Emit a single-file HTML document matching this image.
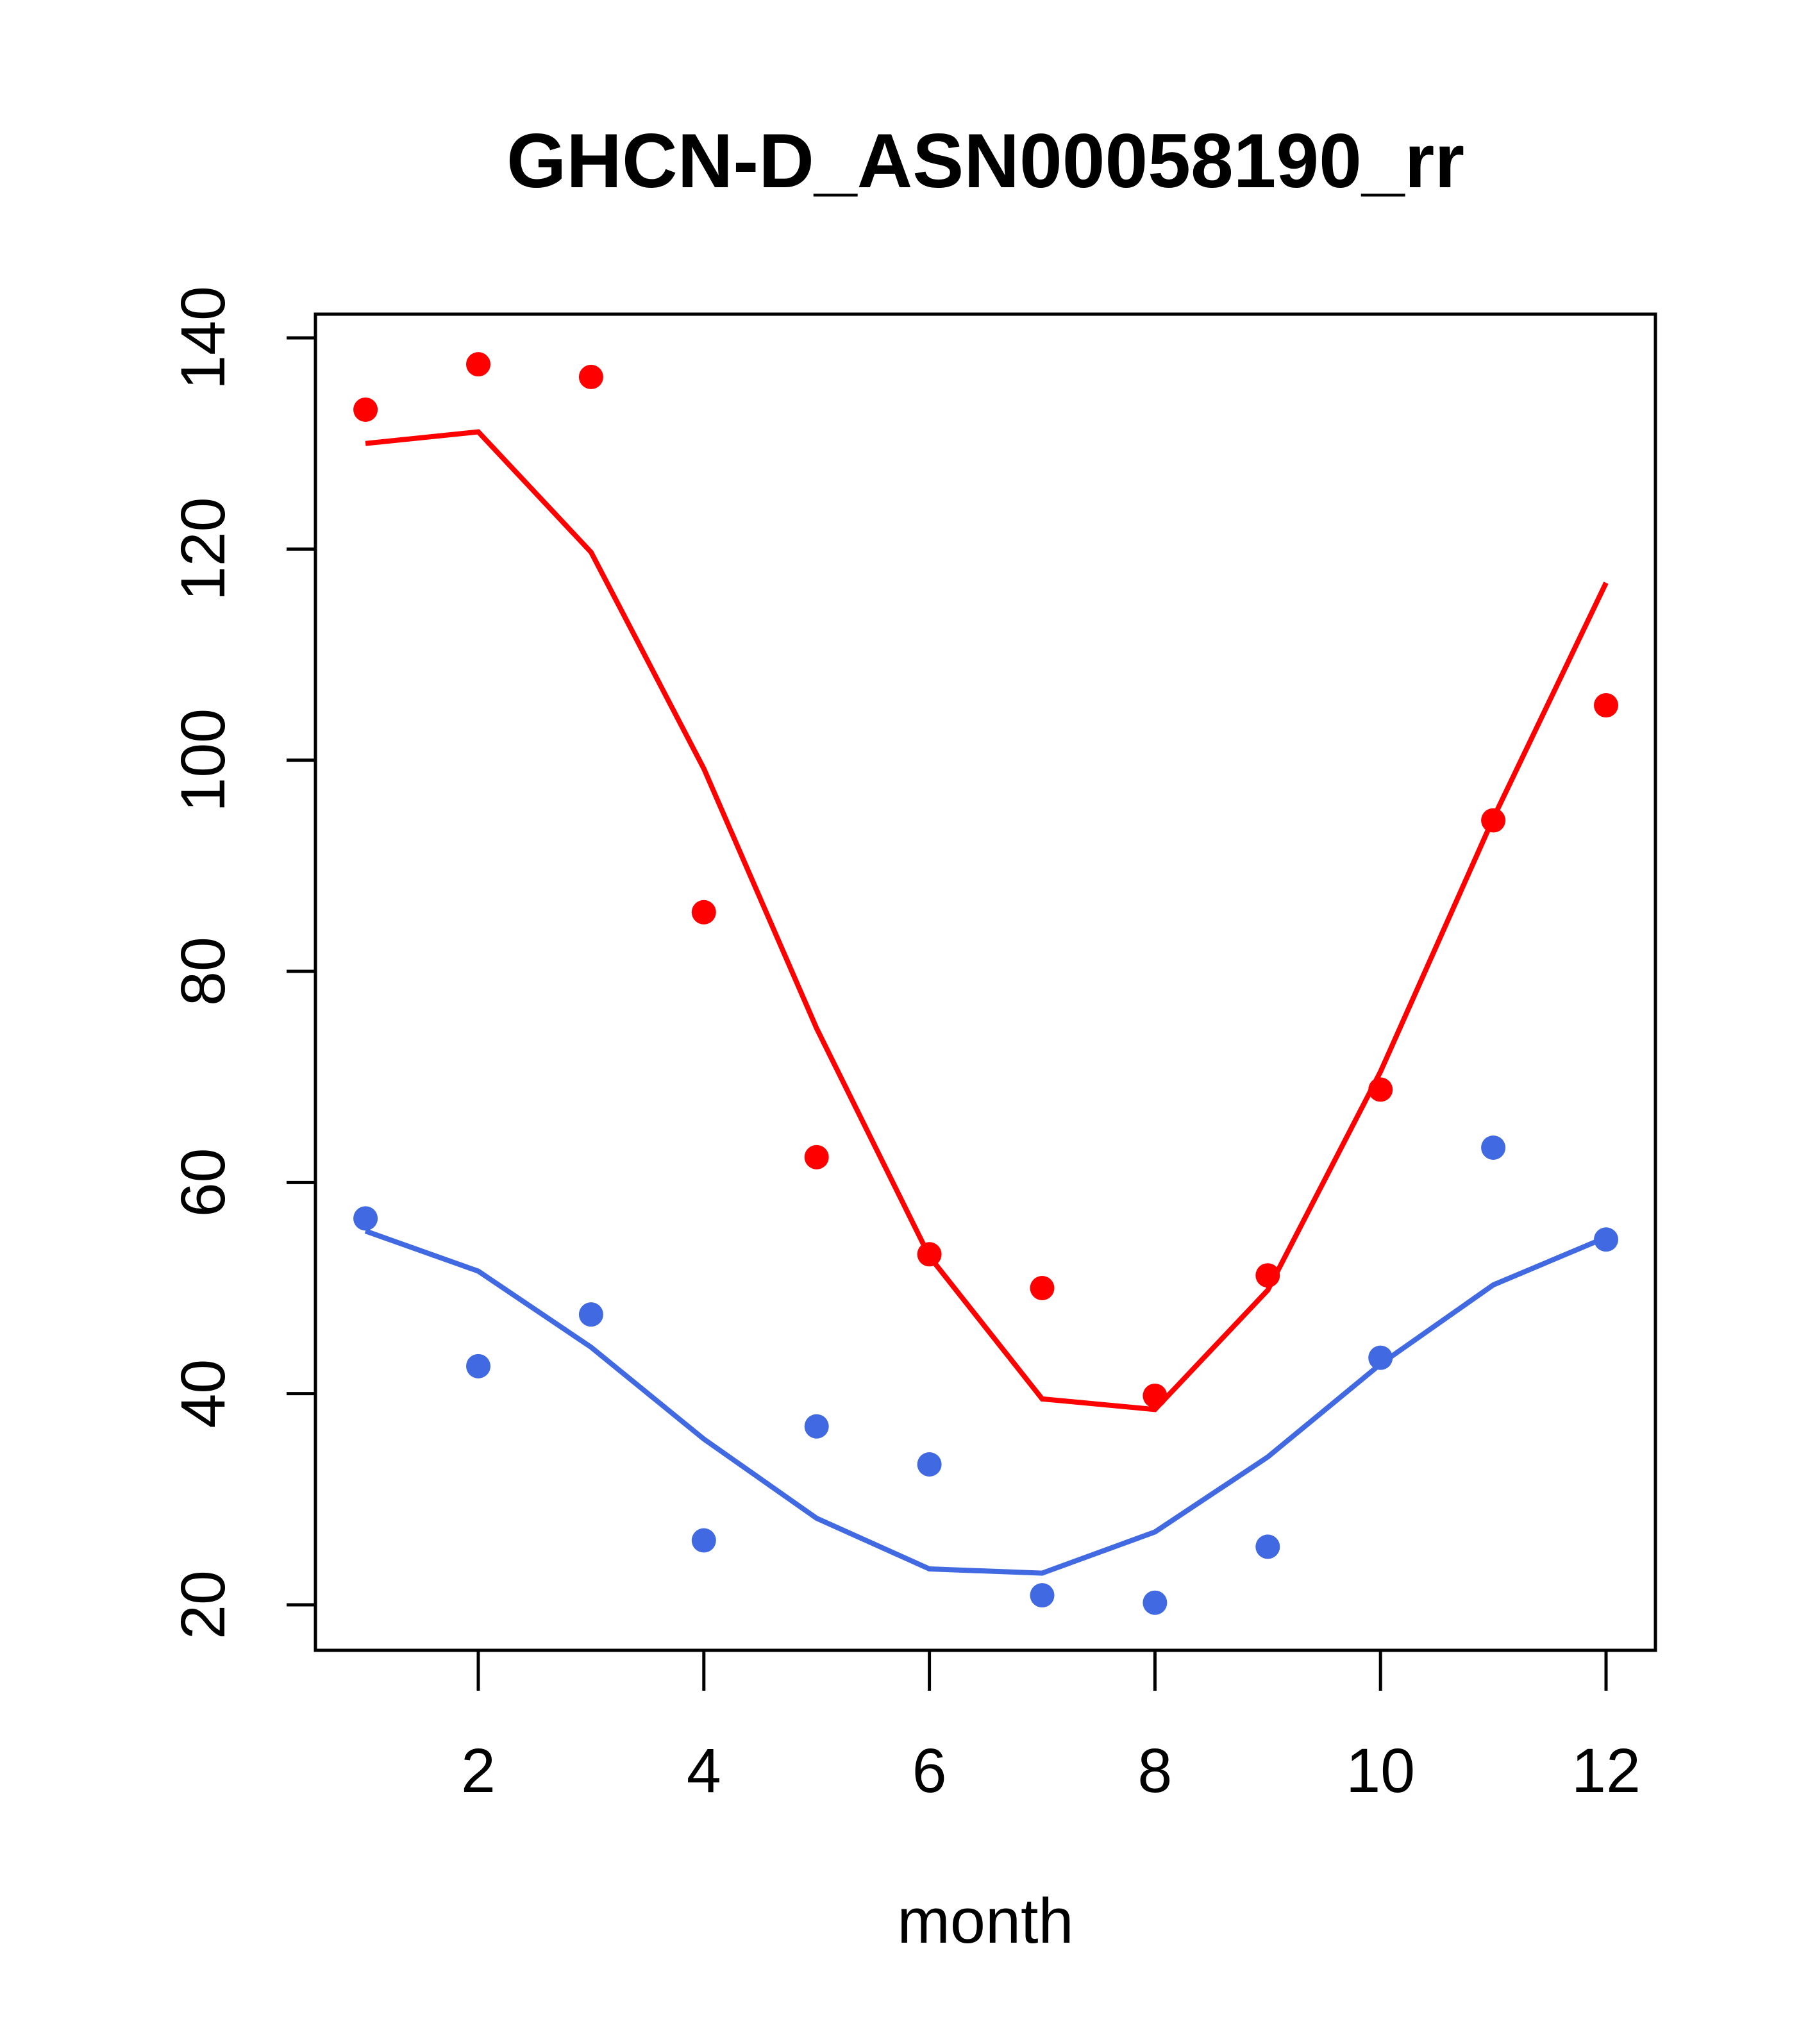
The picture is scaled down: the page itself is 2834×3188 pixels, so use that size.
<!DOCTYPE html>
<html><head><meta charset="utf-8"><style>
html,body{margin:0;padding:0;background:#fff;}
svg{display:block;font-family:"Liberation Sans",Arial,sans-serif;}
</style></head><body>
<svg id="chart" width="2834" height="3188" viewBox="0 0 2834 3188" xmlns="http://www.w3.org/2000/svg">
<rect width="2834" height="3188" fill="#fff"/>
<text x="1537" y="292" text-anchor="middle" font-size="120" font-weight="bold">GHCN-D_ASN00058190_rr</text>
<rect x="492" y="490" width="2090" height="2084" fill="none" stroke="#000" stroke-width="5"/>
<text x="1537" y="3030" text-anchor="middle" font-size="99">month</text>
<g id="xaxis"></g>
<g id="yaxis"></g>
<g id="series"></g>
</svg>
<script>
const months=[1,2,3,4,5,6,7,8,9,10,11,12];
const redPoints=[133.2,137.5,136.3,85.6,62.4,53.2,50,39.8,51.2,68.8,94.3,105.2];
const redLine=[130,131.1,119.7,99.2,74.6,53,39.5,38.5,49.8,70.5,94.5,116.8];
const bluePoints=[56.6,42.6,47.5,26.1,36.9,33.3,20.9,20.2,25.5,43.4,63.3,54.6];
const blueLine=[55.4,51.6,44.4,35.7,28.2,23.4,23,26.9,34,42.8,50.3,54.8];
const xTicks=[2,4,6,8,10,12];
const yTicks=[20,40,60,80,100,120,140];

const NS="http://www.w3.org/2000/svg";
function xs(m){return 746+(m-2)*(2505-746)/10;}
function ys(v){return 2503-(v-20)*(2503-527)/120;}
function mk(tag,attrs,parent){const e=document.createElementNS(NS,tag);for(const k in attrs)e.setAttribute(k,attrs[k]);parent.appendChild(e);return e;}

const xg=document.getElementById('xaxis');
xTicks.forEach(t=>{
  const l=mk('line',{x1:xs(t),x2:xs(t),y1:2574,y2:2637,stroke:'#000','stroke-width':5},xg);
  
  
  const tx=mk('text',{x:xs(t),y:2795,'text-anchor':'middle','font-size':97},xg);
  tx.textContent=t;
  
  
});
const yg=document.getElementById('yaxis');
yTicks.forEach(t=>{
  const l=mk('line',{x1:447,x2:492,y1:ys(t),y2:ys(t),stroke:'#000','stroke-width':5},yg);
  
  
  const tx=mk('text',{x:350,y:ys(t),'text-anchor':'middle','font-size':97,transform:`rotate(-90 350 ${ys(t)})`},yg);
  tx.textContent=t;
  
  
});
const sg=document.getElementById('series');
function line(vals,color,name){
  const p=mk('polyline',{points:vals.map((v,i)=>xs(months[i])+','+ys(v)).join(' '),fill:'none',stroke:color,'stroke-width':8},sg);
  
  
}
function pts(vals,color,name){
  vals.forEach((v,i)=>{
    const c=mk('circle',{cx:xs(months[i]),cy:ys(v),r:19,fill:color},sg);
    
    
  });
}
line(redLine,'#ff0000','red-line');
line(blueLine,'#4169e1','blue-line');
pts(redPoints,'#ff0000','red-point');
pts(bluePoints,'#4169e1','blue-point');
</script>
</body></html>
